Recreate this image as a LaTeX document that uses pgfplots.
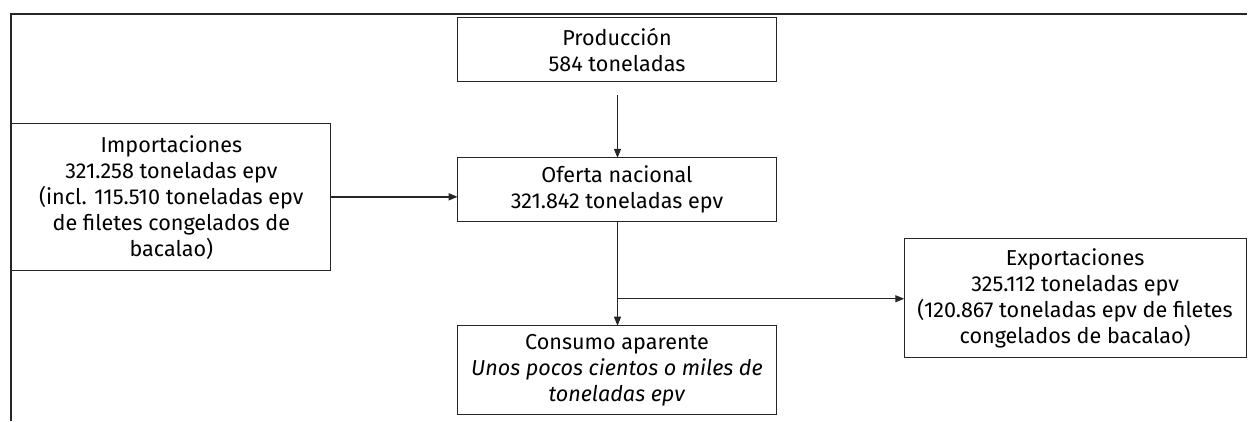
\documentclass[border=0pt]{standalone}
\usepackage{pgfplots}
\pgfplotsset{compat=1.18}
\usepackage{fontspec}
\setmainfont{Fira Sans}
\usetikzlibrary{arrows.meta}

\tikzset{
    box/.style={black!85, line width=0.5pt, line cap=rect, mark=none},
    flow/.style={black!85, line width=0.5pt, mark=none,
        -{Triangle[length=4.5pt,width=3.5pt]}},
    txt/.style={align=center, font=\fontsize{10.8}{13}\selectfont, inner sep=0pt},
}

\begin{document}
\begin{tikzpicture}
\begin{axis}[
    width=624pt, height=210.5pt, scale only axis,
    xmin=0, xmax=1248, ymin=0, ymax=421,
    y dir=reverse,
    axis lines=none, clip=false,
]
% keep the full canvas in the bounding box
\path (rel axis cs:0,0) rectangle (rel axis cs:1,1);

% outer frame
\addplot[black!85, line width=1pt, mark=none] coordinates {(11,421) (11,14) (1248,14)};

% boxes
\addplot[box] coordinates {(458,18) (777,18) (777,82) (458,82) (458,18)};    % Produccion
\addplot[box] coordinates {(458,158) (777,158) (777,222) (458,222) (458,158)}; % Oferta
\addplot[box] coordinates {(12,124) (331,124) (331,271) (12,271) (12,124)};   % Importaciones
\addplot[box] coordinates {(458,326) (777,326) (777,415) (458,415) (458,326)}; % Consumo
\addplot[box] coordinates {(905,239) (1247,239) (1247,358) (905,358) (905,239)}; % Exportaciones

% connectors
\addplot[flow] coordinates {(618,95) (618,158)};
\addplot[flow, line width=0.8pt] coordinates {(331,197) (458,197)};
\addplot[flow] coordinates {(618,222) (618,326)};
\addplot[flow] coordinates {(618,299) (905,299)};

% labels
\node[txt] at (axis cs:617.5,50) {Producción\\584 toneladas};
\node[txt] at (axis cs:617.5,190) {Oferta nacional\\321.842 toneladas epv};
\node[txt] at (axis cs:171.5,197.5) {Importaciones\\321.258 toneladas epv\\(incl. 115.510 toneladas epv\\de filetes congelados de\\bacalao)};
\node[txt] at (axis cs:617.5,370.5) {Consumo aparente\\\textit{Unos pocos cientos o miles de}\\\textit{toneladas epv}};
\node[txt] at (axis cs:1076,298.5) {Exportaciones\\325.112 toneladas epv\\(120.867 toneladas epv de filetes\\congelados de bacalao)};

\end{axis}
\end{tikzpicture}
\end{document}
